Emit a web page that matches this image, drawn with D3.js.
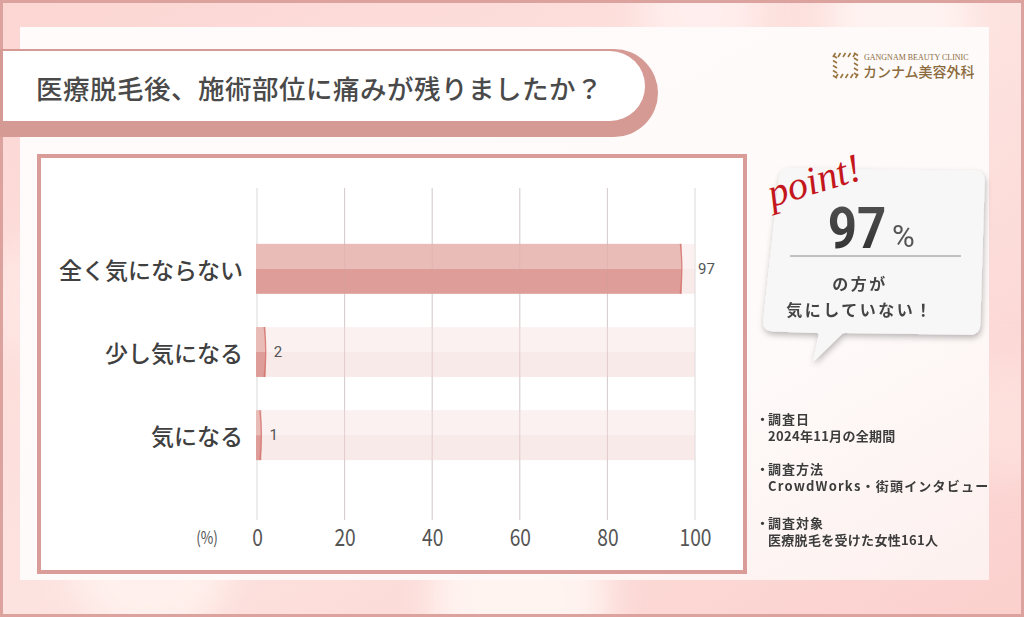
<!DOCTYPE html>
<html><head><meta charset="utf-8">
<script src="https://cdn.jsdelivr.net/npm/d3@7"></script>
<style>
html,body{margin:0;padding:0;background:#fff;}
svg{display:block;}
</style></head>
<body>
<svg id="c" width="1024" height="617"></svg>
<script>
// ---- data ----
const categories = ["全く気にならない", "少し気になる", "気になる"];
const values = [97, 2, 1];
const tickValues = [0, 20, 40, 60, 80, 100];
const titleText = "医療脱毛後、施術部位に痛みが残りましたか？";
const pointValue = "97";
const pointLines = ["の方が", "気にしていない！"];
const notes = [
  ["調査日", "2024年11月の全期間"],
  ["調査方法", "CrowdWorks・街頭インタビュー"],
  ["調査対象", "医療脱毛を受けた女性161人"]
];

const svg = d3.select("#c");
const W = 1024, H = 617;
const JP = "'Noto Sans CJK JP', 'Noto Sans', sans-serif";
const defs = svg.append("defs");

// background gradient
const bg = defs.append("linearGradient").attr("id", "bg").attr("x1", 0).attr("y1", 0).attr("x2", 1).attr("y2", 1);
bg.append("stop").attr("offset", 0).attr("stop-color", "#fcd6d3");
bg.append("stop").attr("offset", 0.5).attr("stop-color", "#fde3e0");
bg.append("stop").attr("offset", 1).attr("stop-color", "#fbd0cd");
const blur = defs.append("filter").attr("id", "blur").attr("x", "-50%").attr("y", "-50%").attr("width", "200%").attr("height", "200%");
blur.append("feGaussianBlur").attr("stdDeviation", 18);
const panelG = defs.append("linearGradient").attr("id", "panel").attr("x1", 0).attr("y1", 0).attr("x2", 1).attr("y2", 1);
panelG.append("stop").attr("offset", 0).attr("stop-color", "#fefbfa");
panelG.append("stop").attr("offset", 0.7).attr("stop-color", "#fefaf9");
panelG.append("stop").attr("offset", 1).attr("stop-color", "#fdf0ee");
const shadow = defs.append("filter").attr("id", "shadow").attr("x", "-20%").attr("y", "-20%").attr("width", "140%").attr("height", "140%");
shadow.append("feDropShadow").attr("dx", 1).attr("dy", 3).attr("stdDeviation", 3).attr("flood-color", "#000").attr("flood-opacity", 0.28);
const numG = defs.append("linearGradient").attr("id", "numg").attr("x1", 0).attr("y1", 0).attr("x2", 0).attr("y2", 1);
numG.append("stop").attr("offset", 0).attr("stop-color", "#555");
numG.append("stop").attr("offset", 1).attr("stop-color", "#2e2e2e");

svg.append("rect").attr("width", W).attr("height", H).attr("fill", "url(#bg)");
const blobs = [[150, 560, 80, "#fff2ee"], [520, 600, 90, "#fff6f3"], [900, 20, 70, "#fff5f3"], [40, 300, 60, "#fee7e4"], [1010, 420, 60, "#fde0dd"], [700, 10, 60, "#fff0ee"]];
svg.append("g").attr("filter", "url(#blur)").selectAll("circle").data(blobs).join("circle")
  .attr("cx", d => d[0]).attr("cy", d => d[1]).attr("r", d => d[2]).attr("fill", d => d[3]).attr("opacity", 0.9);
svg.append("rect").attr("x", 1.5).attr("y", 1.5).attr("width", W - 3).attr("height", H - 3)
  .attr("fill", "none").attr("stroke", "#dca29e").attr("stroke-width", 3);

// inner panel
svg.append("rect").attr("x", 20).attr("y", 27).attr("width", 969).attr("height", 553).attr("fill", "url(#panel)");

// title banner
svg.append("rect").attr("x", -60).attr("y", 49).attr("width", 718).attr("height", 88).attr("rx", 44).attr("fill", "#d69a95");
svg.append("rect").attr("x", -60).attr("y", 51).attr("width", 705).attr("height", 70).attr("rx", 35).attr("fill", "#ffffff");
svg.append("rect").attr("x", 0).attr("y", 49).attr("width", 3).attr("height", 88).attr("fill", "#d69a95");
svg.append("text").attr("x", 36).attr("y", 87).attr("dominant-baseline", "central")
  .attr("font-family", JP).attr("font-weight", 500).attr("font-size", 26.5).attr("letter-spacing", 0.5)
  .attr("fill", "#4a4a4a").text(titleText);

// logo
const logo = svg.append("g");
const lg = logo.append("g").attr("stroke", "#9a7440").attr("stroke-width", 1.6).attr("fill", "none");
const ic = [833, 53, 25];
for (let i = 0; i < 5; i++) {
  const t = ic[2] * (i + 0.5) / 5;
  lg.append("line").attr("x1", ic[0] + t).attr("y1", ic[1]).attr("x2", ic[0] + t - 2.5).attr("y2", ic[1] + 4);
  lg.append("line").attr("x1", ic[0] + t).attr("y1", ic[1] + ic[2]).attr("x2", ic[0] + t + 2.5).attr("y2", ic[1] + ic[2] - 4);
  lg.append("line").attr("x1", ic[0]).attr("y1", ic[1] + t).attr("x2", ic[0] + 4).attr("y2", ic[1] + t + 2.5);
  lg.append("line").attr("x1", ic[0] + ic[2]).attr("y1", ic[1] + t).attr("x2", ic[0] + ic[2] - 4).attr("y2", ic[1] + t - 2.5);
}
logo.append("text").attr("x", 864).attr("y", 60).attr("font-family", "'Liberation Serif', serif").attr("font-size", 8)
  .attr("fill", "#8b6b3e").text("GANGNAM BEAUTY CLINIC");
logo.append("text").attr("x", 863).attr("y", 77).attr("font-family", JP).attr("font-size", 14).attr("font-weight", 500)
  .attr("fill", "#8b6b3e").text("カンナム美容外科");

// chart box
svg.append("rect").attr("x", 39).attr("y", 156).attr("width", 706).attr("height", 416)
  .attr("fill", "#ffffff").attr("stroke", "#d99c98").attr("stroke-width", 4);

// scales
const x = d3.scaleLinear().domain([0, 100]).range([257, 695]);
const y = d3.scaleBand().domain(categories).range([210.6, 493.4]).padding(0.4);
const bw = y.bandwidth();

// gridlines
const grid = svg.append("g");
grid.selectAll("line").data(tickValues).join("line")
  .attr("x1", d => x(d)).attr("x2", d => x(d)).attr("y1", 188).attr("y2", 520)
  .attr("stroke", "#d9d9d9").attr("stroke-width", 1);

// background bars (100%)
const bars = svg.append("g");
bars.selectAll(".bgt").data(categories).join("rect")
  .attr("x", x(0)).attr("y", d => y(d)).attr("width", x(100) - x(0)).attr("height", bw / 2)
  .attr("fill", "#f8e6e5").attr("opacity", 0.55);
bars.selectAll(".bgb").data(categories).join("rect")
  .attr("x", x(0)).attr("y", d => y(d) + bw / 2).attr("width", x(100) - x(0)).attr("height", bw / 2)
  .attr("fill", "#f3dcdb").attr("opacity", 0.6);

// value bars
const vals = categories.map((c, i) => ({ c, v: values[i] }));
bars.selectAll(".vt").data(vals).join("rect")
  .attr("x", x(0) - 1).attr("y", d => y(d.c)).attr("width", d => x(d.v) - x(0) + 1).attr("height", bw / 2)
  .attr("fill", "#e9bcb8");
bars.selectAll(".vb").data(vals).join("rect")
  .attr("x", x(0) - 1).attr("y", d => y(d.c) + bw / 2).attr("width", d => x(d.v) - x(0) + 1).attr("height", bw / 2)
  .attr("fill", "#de9d99");
bars.selectAll(".ve").data(vals).join("path")
  .attr("d", d => {
    const xe = x(d.v), y0 = y(d.c), y1 = y0 + bw;
    return `M${xe - 1.5},${y0} Q${xe + 1.5},${y0 + bw / 2} ${xe - 1.5},${y1}`;
  })
  .attr("fill", "none").attr("stroke", "#d46f69").attr("stroke-width", 1.3).attr("opacity", 0.8);

// grid lines over bars faint
svg.append("g").selectAll("line").data(tickValues.slice(1, 5)).join("line")
  .attr("x1", d => x(d)).attr("x2", d => x(d)).attr("y1", 188).attr("y2", 520)
  .attr("stroke", "#c9a09d").attr("stroke-width", 1).attr("opacity", 0.25);

// value labels
svg.append("g").selectAll("text").data(vals).join("text")
  .attr("x", d => d.v >= 90 ? x(100) + 3 : x(d.v) + 8)
  .attr("y", d => y(d.c) + bw / 2)
  .attr("dominant-baseline", "central")
  .attr("font-family", "Roboto, sans-serif").attr("font-size", 15).attr("fill", "#555")
  .text(d => d.v);

// category labels
svg.append("g").selectAll("text").data(categories).join("text")
  .attr("x", 243).attr("y", d => y(d) + bw / 2).attr("text-anchor", "end").attr("dominant-baseline", "central")
  .attr("font-family", JP).attr("font-weight", 500).attr("font-size", 23).attr("fill", "#404040")
  .text(d => d);

// x axis
const axis = svg.append("g").attr("transform", "translate(0,536)")
  .call(d3.axisBottom(x).tickValues(tickValues).tickSize(0).tickPadding(0));
axis.select(".domain").remove();
axis.selectAll("text")
  .attr("y", 0).attr("dy", null).attr("dominant-baseline", "central")
  .attr("font-family", JP).attr("font-size", 24).attr("fill", "#555")
  .attr("transform", "scale(0.8,1)")
  .attr("text-anchor", "middle");
svg.append("text").attr("x", 207).attr("y", 536).attr("text-anchor", "middle").attr("dominant-baseline", "central")
  .attr("font-family", JP).attr("font-size", 17).attr("fill", "#555")
  .attr("transform", "translate(41.4,0) scale(0.8,1)").text("(%)");

// point bubble
function roundedPoly(pts, r) {
  let d = "";
  const n = pts.length;
  for (let i = 0; i < n; i++) {
    const p0 = pts[(i - 1 + n) % n], p1 = pts[i], p2 = pts[(i + 1) % n];
    const rr = p1[2] !== undefined ? p1[2] : r;
    const v1 = [p0[0] - p1[0], p0[1] - p1[1]], v2 = [p2[0] - p1[0], p2[1] - p1[1]];
    const l1 = Math.hypot(...v1), l2 = Math.hypot(...v2);
    const a = [p1[0] + v1[0] / l1 * Math.min(rr, l1 / 2), p1[1] + v1[1] / l1 * Math.min(rr, l1 / 2)];
    const b = [p1[0] + v2[0] / l2 * Math.min(rr, l2 / 2), p1[1] + v2[1] / l2 * Math.min(rr, l2 / 2)];
    d += (i === 0 ? "M" : "L") + a[0] + "," + a[1] + " Q" + p1[0] + "," + p1[1] + " " + b[0] + "," + b[1];
  }
  return d + "Z";
}
const bubblePts = [[780, 168], [985, 171], [980, 335], [843, 333, 2], [813, 362, 3], [819, 333, 2], [762, 331]];
svg.append("path").attr("d", roundedPoly(bubblePts, 11)).attr("fill", "#f7f7f7").attr("filter", "url(#shadow)");

svg.append("text").attr("x", 0).attr("y", 0)
  .attr("transform", "translate(772,207) rotate(-17)")
  .attr("font-family", "'Liberation Serif', serif").attr("font-style", "italic").attr("font-size", 40)
  .attr("fill", "#c4161c").text("point!");

svg.append("text").attr("x", 0).attr("y", 0).attr("transform", "translate(857,248) scale(0.88,1)")
  .attr("text-anchor", "middle").attr("font-family", "Roboto, sans-serif").attr("font-weight", 700)
  .attr("font-size", 58).attr("fill", "url(#numg)").text(pointValue);
svg.append("text").attr("x", 892).attr("y", 247).attr("font-family", "Roboto, sans-serif")
  .attr("font-size", 31).attr("fill", "#555").text("%");
svg.append("line").attr("x1", 790).attr("x2", 961).attr("y1", 256).attr("y2", 256)
  .attr("stroke", "#8a8a8a").attr("stroke-width", 1);
svg.append("g").selectAll("text").data(pointLines).join("text")
  .attr("x", 860).attr("y", (d, i) => 283 + i * 26).attr("text-anchor", "middle").attr("dominant-baseline", "central")
  .attr("font-family", JP).attr("font-weight", 700).attr("font-size", 16).attr("letter-spacing", 2.5)
  .attr("fill", "#444").text(d => d);

// notes
const noteY = [418, 468, 522];
const ng = svg.append("g").attr("font-family", JP).attr("font-size", 13).attr("font-weight", 700).attr("fill", "#3c3c3c");
notes.forEach((n, i) => {
  ng.append("text").attr("x", 756).attr("y", noteY[i]).attr("dominant-baseline", "central").text("・");
  ng.append("text").attr("x", 768).attr("y", noteY[i]).attr("dominant-baseline", "central").attr("letter-spacing", 1).text(n[0]);
  ng.append("text").attr("x", 768).attr("y", noteY[i] + 17).attr("dominant-baseline", "central")
    .attr("letter-spacing", i === 1 ? 1.2 : 0.3).text(n[1]);
});
</script>
</body></html>
